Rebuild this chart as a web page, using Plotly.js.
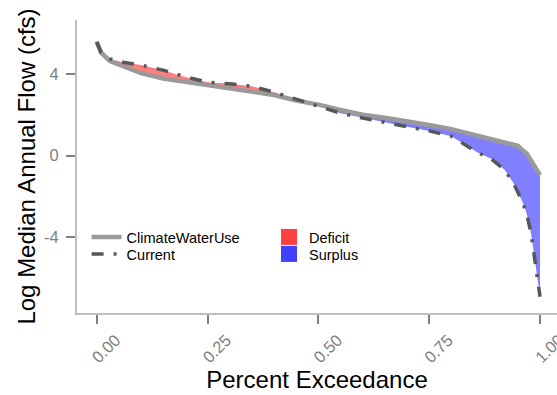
<!DOCTYPE html>
<html>
<head>
<meta charset="utf-8">
<script src="https://cdn.plot.ly/plotly-3.0.1.min.js"></script>
<style>html,body{margin:0;padding:0;background:#fff;}#chart{width:557px;height:395px;}</style>
</head>
<body>
<div id="chart"></div>
<script>
// Percent exceedance (shared by both series)
const exceedance = [0, 0.01, 0.03, 0.06, 0.1, 0.15, 0.2, 0.25, 0.3, 0.35, 0.4, 0.45, 0.5, 0.55, 0.6, 0.65, 0.7, 0.75, 0.8, 0.83, 0.86, 0.89, 0.92, 0.94, 0.95, 0.96, 0.97, 0.98, 0.985, 0.99, 0.995, 1.0];
// Log median annual flow (cfs)
const climateWaterUse = [5.59, 5.05, 4.64, 4.40, 4.04, 3.78, 3.62, 3.47, 3.33, 3.16, 2.97, 2.70, 2.50, 2.24, 2.00, 1.86, 1.70, 1.50, 1.30, 1.14, 0.96, 0.82, 0.68, 0.55, 0.48, 0.28, 0.10, -0.25, -0.45, -0.62, -0.80, -0.96];
const current = [5.58, 5.05, 4.74, 4.58, 4.44, 4.19, 3.86, 3.60, 3.52, 3.40, 3.11, 2.76, 2.44, 2.08, 1.84, 1.63, 1.41, 1.21, 0.95, 0.53, 0.14, -0.16, -0.70, -1.35, -1.78, -2.25, -2.85, -3.85, -4.60, -5.40, -6.15, -6.92];
const xTickVals = [0, 0.25, 0.5, 0.75, 1.0];
const xTickText = ['0.00', '0.25', '0.50', '0.75', '1.00'];
const yTickVals = [-4, 0, 4];
const yTickText = ['-4', '0', '4'];
const seriesNames = ['ClimateWaterUse', 'Current'];
const fillNames = ['Deficit', 'Surplus'];

const upper = current.map((v, i) => Math.max(v, climateWaterUse[i]));
const lower = current.map((v, i) => Math.min(v, climateWaterUse[i]));

const FONT = 'Liberation Sans, Arial, sans-serif';

const traces = [
  {x: exceedance, y: climateWaterUse, mode: 'lines', line: {width: 0, color: 'rgba(0,0,0,0)'}, showlegend: false, hoverinfo: 'skip'},
  {x: exceedance, y: upper, mode: 'lines', line: {width: 0, color: 'rgba(0,0,0,0)'}, fill: 'tonexty', fillcolor: '#FF7F7F', showlegend: false, hoverinfo: 'skip'},
  {x: exceedance, y: climateWaterUse, mode: 'lines', line: {width: 0, color: 'rgba(0,0,0,0)'}, showlegend: false, hoverinfo: 'skip'},
  {x: exceedance, y: lower, mode: 'lines', line: {width: 0, color: 'rgba(0,0,0,0)'}, fill: 'tonexty', fillcolor: '#8080FF', showlegend: false, hoverinfo: 'skip'},
  {x: exceedance, y: climateWaterUse, name: seriesNames[0], mode: 'lines', line: {width: 4.5, color: '#9A9A9A'}, legend: 'legend'},
  {x: exceedance, y: current, name: seriesNames[1], mode: 'lines', line: {width: 3.5, color: '#575757', dash: '12px,10px,3px,10px'}, legend: 'legend2'},
  {x: [null], y: [null], name: fillNames[0], mode: 'markers', marker: {symbol: 'square', size: 16, color: '#FF4040'}, legend: 'legend3'},
  {x: [null], y: [null], name: fillNames[1], mode: 'markers', marker: {symbol: 'square', size: 16, color: '#4040FF'}, legend: 'legend4'}
];

const axisCommon = {
  showline: true, linecolor: '#BEBEBE', linewidth: 2,
  ticks: 'outside', ticklen: 9, tickwidth: 2, tickcolor: '#808080',
  showgrid: false, zeroline: false,
  tickfont: {family: FONT, size: 16.5, color: '#808080'}
};

function leg(x, y) {
  return {x: x, xanchor: 'left', y: y, yanchor: 'middle', bgcolor: 'rgba(0,0,0,0)',
          font: {family: FONT, size: 14.5, color: '#000'}, itemwidth: 30, traceorder: 'normal'};
}

const layout = {
  width: 557, height: 395,
  margin: {l: 77, r: 0, t: 20, b: 82},
  paper_bgcolor: '#fff', plot_bgcolor: '#fff',
  font: {family: FONT},
  xaxis: Object.assign({}, axisCommon, {
    range: [-0.0444, 1.0383], tickvals: xTickVals, ticktext: xTickText, tickangle: -45,
    ticklabelshift: 19, ticklabeloverflow: 'allow',
    title: {text: 'Percent Exceedance', font: {family: FONT, size: 24, color: '#000'}, standoff: 6}
  }),
  yaxis: Object.assign({}, axisCommon, {
    range: [-7.72, 6.65], tickvals: yTickVals, ticktext: yTickText, ticklabelstandoff: 4,
    title: {text: 'Log Median Annual Flow (cfs)', font: {family: FONT, size: 24, color: '#000'}, standoff: 2}
  }),
  legend: leg(0.02, 0.2594),
  legend2: leg(0.02, 0.2014),
  legend3: leg(0.40, 0.2594),
  legend4: leg(0.40, 0.2014),
  showlegend: true
};

Plotly.newPlot('chart', traces, layout, {staticPlot: true, displayModeBar: false});
</script>
</body>
</html>
